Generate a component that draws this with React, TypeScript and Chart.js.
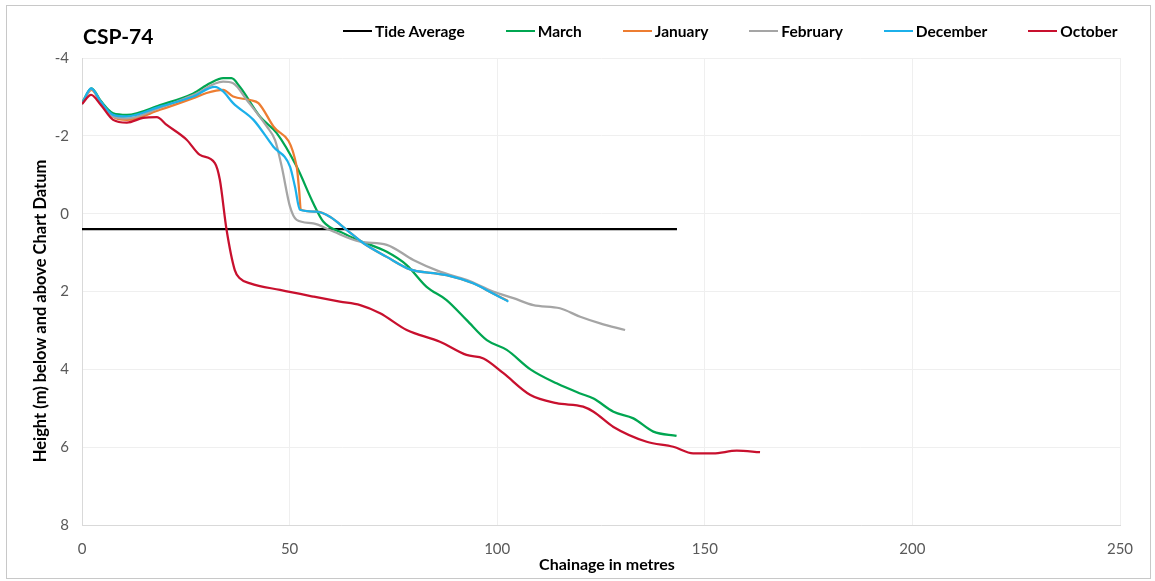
import React, { useEffect, useRef } from "react";
import { Chart, registerables } from "chart.js";

Chart.register(...registerables);

// ---------- Data ----------
const tideX = [0, 143.3];
const tideY = [0.4, 0.4];

const marchX = [0, 2.3, 4.5, 7.5, 10.8, 18.8, 26.8, 30.8, 34, 36, 38, 42.9, 46.9, 51.7, 55.7, 58.1, 62.9, 67, 73.4, 78.2, 83, 87.8, 92.6, 97.5, 102.3, 108, 114.3, 120, 123.2, 128, 132.8, 137.6, 143.2];
const marchY = [-2.85, -3.22, -2.9, -2.58, -2.54, -2.79, -3.09, -3.35, -3.48, -3.48, -3.26, -2.49, -2.07, -1.21, -0.27, 0.2, 0.5, 0.7, 0.98, 1.32, 1.88, 2.22, 2.73, 3.25, 3.5, 4.0, 4.36, 4.62, 4.75, 5.09, 5.26, 5.6, 5.71];

const januaryX = [0, 2.3, 4.5, 7.5, 10.8, 18.8, 26.8, 30, 34, 36.4, 40.5, 42.5, 46.1, 51.7, 52.3, 52.7, 56.5, 59.7, 63.8, 67.8, 73.4, 79, 84.6, 87.8, 94.2, 99, 102.5];
const januaryY = [-2.82, -3.18, -2.85, -2.49, -2.41, -2.67, -2.97, -3.1, -3.18, -3.01, -2.92, -2.84, -2.24, -1.21, -0.6, -0.1, -0.05, 0.08, 0.42, 0.76, 1.11, 1.43, 1.53, 1.58, 1.79, 2.05, 2.24];

const februaryX = [0, 2.3, 4.5, 7.5, 10.8, 18.8, 26.8, 34, 36.4, 39.7, 44.5, 46.5, 48.1, 50.1, 51.7, 55.7, 59.7, 67, 73.4, 79.8, 86.2, 92.6, 99, 103.9, 108.7, 115.1, 120, 124.8, 130.8];
const februaryY = [-2.82, -3.2, -2.87, -2.5, -2.45, -2.72, -3.05, -3.39, -3.35, -2.92, -2.24, -1.89, -1.21, -0.18, 0.16, 0.25, 0.42, 0.72, 0.8, 1.19, 1.49, 1.7, 2.0, 2.17, 2.35, 2.43, 2.65, 2.82, 2.99];

const decemberX = [0, 2.2, 4.5, 7.5, 10.8, 18.8, 26.8, 32, 34, 36.4, 41.3, 46.1, 50.1, 51.3, 52.5, 56.5, 59.7, 63.8, 67.8, 73.4, 79, 84.6, 87.8, 94.2, 99, 102.7];
const decemberY = [-2.82, -3.22, -2.88, -2.54, -2.5, -2.75, -3.01, -3.26, -3.14, -2.84, -2.41, -1.72, -1.21, -0.69, -0.1, -0.05, 0.08, 0.42, 0.76, 1.11, 1.43, 1.53, 1.58, 1.79, 2.05, 2.26];

const octoberX = [0, 2.2, 4.5, 7.5, 10.8, 14.7, 18, 20.4, 25.2, 28.4, 32, 33.2, 34.8, 36.8, 38, 40.5, 47.7, 55.7, 62.1, 67, 71.8, 78.2, 86.2, 92.6, 96.7, 101.5, 108, 114.3, 120.7, 123.2, 128, 136, 142.4, 147.2, 152, 157.7, 163.3];
const octoberY = [-2.82, -3.05, -2.8, -2.41, -2.34, -2.46, -2.48, -2.28, -1.9, -1.51, -1.3, -0.87, 0.4, 1.45, 1.66, 1.79, 1.96, 2.13, 2.26, 2.35, 2.56, 2.99, 3.29, 3.63, 3.72, 4.1, 4.66, 4.87, 4.96, 5.09, 5.48, 5.86, 5.99, 6.16, 6.16, 6.09, 6.13];

const seriesNames = ["Tide Average", "March", "January", "February", "December", "October"];
const seriesColors = ["#000000", "#00A651", "#ED7D31", "#A5A5A5", "#1CB0EA", "#C8102E"];
const seriesXs = [tideX, marchX, januaryX, februaryX, decemberX, octoberX];
const seriesYs = [tideY, marchY, januaryY, februaryY, decemberY, octoberY];

const xTicks = [0, 50, 100, 150, 200, 250];
const yTicks = [-4, -2, 0, 2, 4, 6, 8];

const chartTitle = "CSP-74";
const xTitle = "Chainage in metres";
const yTitle = "Height (m) below and above Chart Datum";

const FONT = "Lato, 'Open Sans', sans-serif";

export default function App() {
  const canvasRef = useRef<HTMLCanvasElement | null>(null);

  useEffect(() => {
    const canvas = canvasRef.current;
    if (!canvas) return;
    const n = seriesNames.length;
    const datasets = seriesNames.map((name, i) => ({
      label: name,
      data: seriesXs[i].map((x, j) => ({ x, y: seriesYs[i][j] })),
      borderColor: seriesColors[i],
      backgroundColor: seriesColors[i],
      borderWidth: 2.25,
      pointRadius: 0,
      showLine: true,
      fill: false,
      cubicInterpolationMode: "monotone" as const,
      order: n - i,
    }));

    const chart = new Chart(canvas, {
      type: "scatter",
      data: { datasets },
      options: {
        animation: false,
        responsive: false,
        maintainAspectRatio: false,
        layout: { padding: { top: 58, right: 35, left: 0, bottom: 0 } },
        plugins: {
          legend: { display: false },
          title: { display: false },
          tooltip: { enabled: false },
        },
        scales: {
          x: {
            type: "linear",
            min: xTicks[0],
            max: xTicks[xTicks.length - 1],
            afterBuildTicks: (scale: any) => {
              scale.ticks = xTicks.map((v) => ({ value: v }));
            },
            afterFit: (scale: any) => {
              scale.height = 56;
            },
            grid: { color: "#efefef", drawTicks: false, lineWidth: 1 },
            border: { color: "#d9d9d9" },
            ticks: {
              padding: 15,
              color: "#595959",
              font: { family: FONT, size: 15 },
              maxRotation: 0,
            },
          },
          y: {
            type: "linear",
            reverse: true,
            min: yTicks[0],
            max: yTicks[yTicks.length - 1],
            afterBuildTicks: (scale: any) => {
              scale.ticks = yTicks.map((v) => ({ value: v }));
            },
            afterFit: (scale: any) => {
              scale.width = 82;
            },
            grid: { color: "#efefef", drawTicks: false, lineWidth: 1 },
            border: { color: "#d9d9d9" },
            ticks: {
              padding: 13,
              color: "#595959",
              font: { family: FONT, size: 15 },
            },
          },
        },
      },
    });
    return () => chart.destroy();
  }, []);

  return (
    <div style={{ position: "absolute", left: 0, top: 0, width: 1155, height: 581, background: "#ffffff", overflow: "hidden" }}>
      <canvas ref={canvasRef} width={1155} height={581} style={{ position: "absolute", left: 0, top: 0, display: "block" }} />
      <div style={{ position: "absolute", left: 6, top: 5, width: 1143, height: 572, border: "1px solid #c8c8c8", pointerEvents: "none" }} />
      <div style={{ position: "absolute", left: 83, top: 23, fontFamily: FONT, fontWeight: 700, fontSize: 21, color: "#000", lineHeight: "26px" }}>{chartTitle}</div>
      <div style={{ position: "absolute", left: 343, top: 22, height: 18, display: "flex", alignItems: "center", fontFamily: FONT, fontWeight: 700, fontSize: 15.5, color: "#000", whiteSpace: "nowrap" }}>
        {seriesNames.map((name, i) => (
          <div key={name} style={{ display: "flex", alignItems: "center", marginRight: 41 }}>
            <span style={{ display: "inline-block", width: 29, height: 2.5, background: seriesColors[i], marginRight: 3 }} />
            <span>{name}</span>
          </div>
        ))}
      </div>
      <div style={{ position: "absolute", left: 40, top: 311, transform: "translate(-50%, -50%) rotate(-90deg)", fontFamily: FONT, fontWeight: 700, fontSize: 16.5, color: "#000", whiteSpace: "nowrap", lineHeight: "20px" }}>{yTitle}</div>
      <div style={{ position: "absolute", left: 607, top: 564, transform: "translate(-50%, -50%)", fontFamily: FONT, fontWeight: 700, fontSize: 16, color: "#000", whiteSpace: "nowrap", lineHeight: "20px" }}>{xTitle}</div>
    </div>
  );
}
